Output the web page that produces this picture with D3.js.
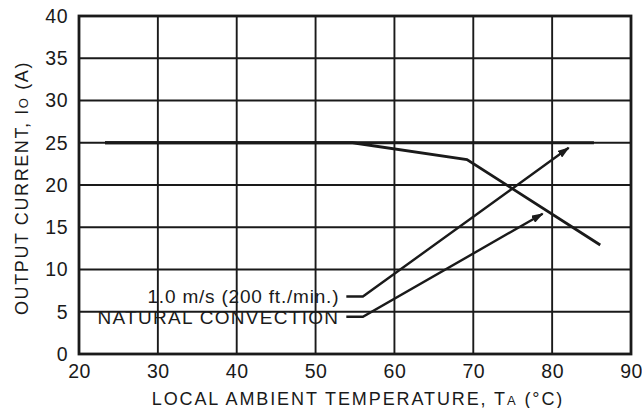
<!DOCTYPE html>
<html>
<head>
<meta charset="utf-8">
<script src="https://cdn.jsdelivr.net/npm/d3@7/dist/d3.min.js"></script>
<style>
  html, body { margin: 0; padding: 0; background: #fff; }
  text { font-family: "Liberation Sans", Arial, sans-serif; fill: #1a1a1a; }
</style>
</head>
<body>
<svg id="chart" width="642" height="408"></svg>
<script>
// ---- data ----
const xTicks = [20, 30, 40, 50, 60, 70, 80, 90];
const yTicks = [0, 5, 10, 15, 20, 25, 30, 35, 40];
const airflowCurve = [[23.3, 25], [85.3, 25]];
const naturalCurve = [[23.3, 25], [54.7, 25], [69.2, 23.0], [86.1, 12.9]];
const labelNames = ["1.0 m/s (200 ft./min.)", "NATURAL CONVECTION"];
const airflowLeader = [[53.9, 6.8], [56.0, 6.8], [82.1, 24.4]];
const naturalLeader = [[53.9, 4.4], [56.0, 4.4], [78.8, 16.6]];

// ---- layout ----
const L = 79, R = 631, T = 16, B = 354;
const svg = d3.select("#chart");
const x = d3.scaleLinear().domain([20, 90]).range([L, R]);
const y = d3.scaleLinear().domain([0, 40]).range([B, T]);
const ink = "#1a1a1a";

svg.append("defs").append("marker")
  .attr("id", "arrow").attr("viewBox", "0 0 12 8")
  .attr("refX", 11).attr("refY", 4)
  .attr("markerWidth", 12).attr("markerHeight", 8)
  .attr("markerUnits", "userSpaceOnUse")
  .attr("orient", "auto")
  .append("path").attr("d", "M0,0 L12,4 L0,8 Z").attr("fill", ink);

// grid
const grid = svg.append("g");
grid.selectAll("line.v").data(xTicks.slice(1, -1)).join("line")
  .attr("x1", d => x(d)).attr("x2", d => x(d))
  .attr("y1", T).attr("y2", B)
  .attr("stroke", ink).attr("stroke-width", 1.9);
grid.selectAll("line.h").data(yTicks.slice(1, -1)).join("line")
  .attr("x1", L).attr("x2", R)
  .attr("y1", d => y(d)).attr("y2", d => y(d))
  .attr("stroke", ink).attr("stroke-width", 1.9);

// axes with tick labels
const xAxis = d3.axisBottom(x).tickValues(xTicks).tickSize(0).tickPadding(8);
const gx = svg.append("g").attr("transform", `translate(0,${B})`).call(xAxis);
gx.select(".domain").remove();
gx.selectAll("text").attr("font-size", 19.5).attr("dy", "0.8em").attr("letter-spacing", 0.5)
  .attr("font-family", "Liberation Sans, Arial, sans-serif").attr("fill", ink);

const yAxis = d3.axisLeft(y).tickValues(yTicks).tickSize(0).tickPadding(11);
const gy = svg.append("g").attr("transform", `translate(${L},0)`).call(yAxis);
gy.select(".domain").remove();
gy.selectAll("text").attr("font-size", 19.5).attr("letter-spacing", 0.5)
  .attr("font-family", "Liberation Sans, Arial, sans-serif").attr("fill", ink);

// frame
svg.append("rect").attr("x", L).attr("y", T).attr("width", R - L).attr("height", B - T)
  .attr("fill", "none").attr("stroke", ink).attr("stroke-width", 2.8);

// curves
const line = d3.line().x(d => x(d[0])).y(d => y(d[1]));
svg.append("path").attr("d", line(naturalCurve)).attr("fill", "none")
  .attr("stroke", ink).attr("stroke-width", 2.8).attr("stroke-linejoin", "miter");
svg.append("path").attr("d", line(airflowCurve)).attr("fill", "none")
  .attr("stroke", ink).attr("stroke-width", 2.8);

// leaders with arrows
[airflowLeader, naturalLeader].forEach(pts => {
  svg.append("path").attr("d", line(pts)).attr("fill", "none")
    .attr("stroke", ink).attr("stroke-width", 2.4).attr("marker-end", "url(#arrow)");
});

// labels
const labelYs = [airflowLeader[0][1], naturalLeader[0][1]];
labelNames.forEach((t, i) => {
  svg.append("text").attr("x", x(airflowLeader[0][0]) - 7).attr("y", y(labelYs[i]))
    .attr("dy", "0.36em").attr("text-anchor", "end")
    .attr("font-size", 19).attr("letter-spacing", i === 1 ? 1.3 : 0.8)
    .text(t);
});

// axis titles
const xt = svg.append("text").attr("x", (L + R) / 2 + 3).attr("y", 405)
  .attr("text-anchor", "middle").attr("font-size", 18).attr("letter-spacing", 1.9);
xt.append("tspan").text("LOCAL AMBIENT TEMPERATURE, T");
xt.append("tspan").attr("font-size", 13).text("A");
xt.append("tspan").text(" (°C)");

const yt = svg.append("text").attr("transform", "translate(28,188) rotate(-90)")
  .attr("text-anchor", "middle").attr("font-size", 18).attr("letter-spacing", 1.6);
yt.append("tspan").text("OUTPUT CURRENT, I");
yt.append("tspan").attr("font-size", 13).text("O");
yt.append("tspan").text(" (A)");
</script>
</body>
</html>
